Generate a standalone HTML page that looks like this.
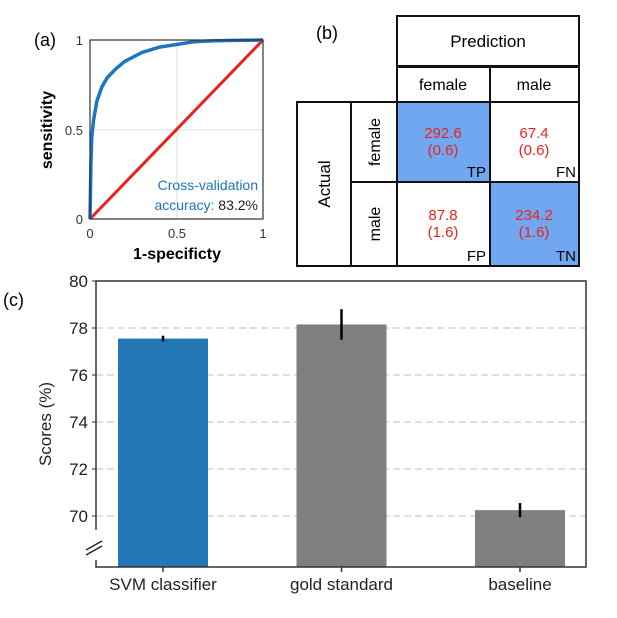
<!DOCTYPE html>
<html><head><meta charset="utf-8"><style>
body{margin:0;background:#fff;width:617px;height:613px;overflow:hidden;font-family:"Liberation Sans",sans-serif}
</style></head><body>
<svg id="fig" width="617" height="613" xmlns="http://www.w3.org/2000/svg">
<g>
<text x="34" y="46" font-size="18">(a)</text>
<line x1="177" y1="40" x2="177" y2="219" stroke="#ddd" stroke-width="1"/>
<line x1="90" y1="130" x2="263" y2="130" stroke="#ddd" stroke-width="1"/>
<line x1="90" y1="219" x2="263" y2="40" stroke="#e8231f" stroke-width="3"/>
<path id="roc" fill="none" stroke="#1a75c2" stroke-width="3.5"/>
<rect x="90" y="40" width="173" height="179" fill="none" stroke="#333" stroke-width="1.2"/>
<g font-size="13" fill="#333">
<text x="83" y="45" text-anchor="end">1</text>
<text x="83" y="135" text-anchor="end">0.5</text>
<text x="83" y="224" text-anchor="end">0</text>
<text x="90" y="238" text-anchor="middle">0</text>
<text x="177" y="238" text-anchor="middle">0.5</text>
<text x="263" y="238" text-anchor="middle">1</text>
</g>
<text x="177" y="259" font-size="16" font-weight="bold" text-anchor="middle">1-specificty</text>
<text transform="translate(52,130) rotate(-90)" font-size="16" font-weight="bold" text-anchor="middle">sensitivity</text>
<text x="258" y="190" font-size="14" fill="#1a75c2" text-anchor="end">Cross-validation</text>
<text x="258" y="210" font-size="14" text-anchor="end"><tspan fill="#1a75c2">accuracy:</tspan> <tspan fill="#222">83.2%</tspan></text>
</g>
<g stroke="#111" stroke-width="2">
<text x="316" y="39" font-size="18" stroke="none">(b)</text>
<rect x="397" y="102" width="93" height="80" fill="#70a7f0"/>
<rect x="490" y="102" width="89" height="80" fill="#fff"/>
<rect x="397" y="182" width="93" height="84" fill="#fff"/>
<rect x="490" y="182" width="89" height="84" fill="#70a7f0"/>
<rect x="397" y="16" width="182" height="50" fill="none"/>
<rect x="397" y="67" width="93" height="35" fill="none"/>
<rect x="490" y="67" width="89" height="35" fill="none"/>
<rect x="297" y="102" width="54" height="164" fill="none"/>
<rect x="351" y="102" width="46" height="80" fill="none"/>
<rect x="351" y="182" width="46" height="84" fill="none"/>
<g stroke="none" font-size="16" text-anchor="middle">
<text x="488" y="47" font-size="17">Prediction</text>
<text x="443" y="90">female</text>
<text x="534" y="90">male</text>
<text transform="translate(330,184) rotate(-90)" font-size="17">Actual</text>
<text transform="translate(380,142) rotate(-90)">female</text>
<text transform="translate(380,224) rotate(-90)">male</text>
<g fill="#e8231f" font-size="15">
<text x="443" y="138">292.6</text><text x="443" y="155">(0.6)</text>
<text x="534" y="138">67.4</text><text x="534" y="155">(0.6)</text>
<text x="443" y="220">87.8</text><text x="443" y="237">(1.6)</text>
<text x="534" y="220">234.2</text><text x="534" y="237">(1.6)</text>
</g>
<g text-anchor="end" font-size="15">
<text x="486" y="177">TP</text><text x="576" y="177">FN</text>
<text x="486" y="261">FP</text><text x="576" y="261">TN</text>
</g>
</g>
</g>
<text x="3" y="306" font-size="18">(c)</text>
<g id="barchart"></g>
</svg>
<script>
const rocX=[0,0.005,0.01,0.02,0.04,0.07,0.1,0.15,0.2,0.3,0.4,0.5,0.6,0.7,0.8,0.9,1];
const rocY=[0,0.3,0.45,0.55,0.66,0.74,0.79,0.84,0.88,0.93,0.96,0.975,0.99,0.995,0.997,0.999,1];
const categories=["SVM classifier","gold standard","baseline"];
const scores=[77.55,78.15,70.25];
const errors=[0.12,0.65,0.3];
const yTicks=[70,72,74,76,78,80];
const colors=["#2377b4","#7f7f7f","#7f7f7f"];
const NS="http://www.w3.org/2000/svg";
function mk(tag,attrs,parent){const e=document.createElementNS(NS,tag);for(const k in attrs)e.setAttribute(k,attrs[k]);parent.appendChild(e);return e;}
const rx=v=>90+v*173, ry=v=>219-v*179;
document.getElementById('roc').setAttribute('d',rocX.map((x,i)=>(i?'L':'M')+rx(x).toFixed(1)+' '+ry(rocY[i]).toFixed(1)).join(' '));
const g=document.getElementById('barchart');
const L=96,R=586,T=281,B=567,ymin=67.83,ymax=80;
const y=v=>B-(v-ymin)/(ymax-ymin)*(B-T);
const pad=67,step=178.5;
const x=i=>L+pad+step*i;
const bw=90;
yTicks.forEach(t=>{
  if(t<80){const l=mk('line',{x1:L,x2:R,y1:y(t),y2:y(t),stroke:'#ccc','stroke-dasharray':'7,4','stroke-width':1.2},g);
  
  }
  const tx=mk('text',{x:L-8,y:y(t)+6,'font-size':17,'text-anchor':'end',fill:'#222'},g);tx.textContent=t;
  
  
  mk('line',{x1:L-4,x2:L,y1:y(t),y2:y(t),stroke:'#333'},g);
});
categories.forEach((c,i)=>{
  const cx=x(i);
  const r=mk('rect',{x:cx-bw/2,y:y(scores[i]),width:bw,height:B-y(scores[i]),fill:colors[i]},g);
  
  
  const e=mk('line',{x1:cx,x2:cx,y1:y(scores[i]+errors[i]),y2:y(scores[i]-errors[i]),stroke:'#000','stroke-width':2.5},g);
  
  
  mk('line',{x1:cx,x2:cx,y1:B,y2:B+5,stroke:'#333','stroke-width':1.5},g);
  const t=mk('text',{x:cx,y:B+23,'font-size':17,'text-anchor':'middle',fill:'#222'},g);t.textContent=c;
  
  
});
mk('rect',{x:L,y:T,width:R-L,height:B-T,fill:'none',stroke:'#333','stroke-width':1.5},g);
mk('line',{x1:L,x2:L,y1:530,y2:560,stroke:'#fff','stroke-width':3},g);
mk('line',{x1:86,y1:550,x2:102,y2:541,stroke:'#222','stroke-width':1.5},g);
mk('line',{x1:86,y1:555,x2:102,y2:546,stroke:'#222','stroke-width':1.5},g);
const yl=mk('text',{transform:'translate(51,424) rotate(-90)','font-size':17,'text-anchor':'middle',fill:'#222'},g);yl.textContent='Scores (%)';


</script>
</body></html>
